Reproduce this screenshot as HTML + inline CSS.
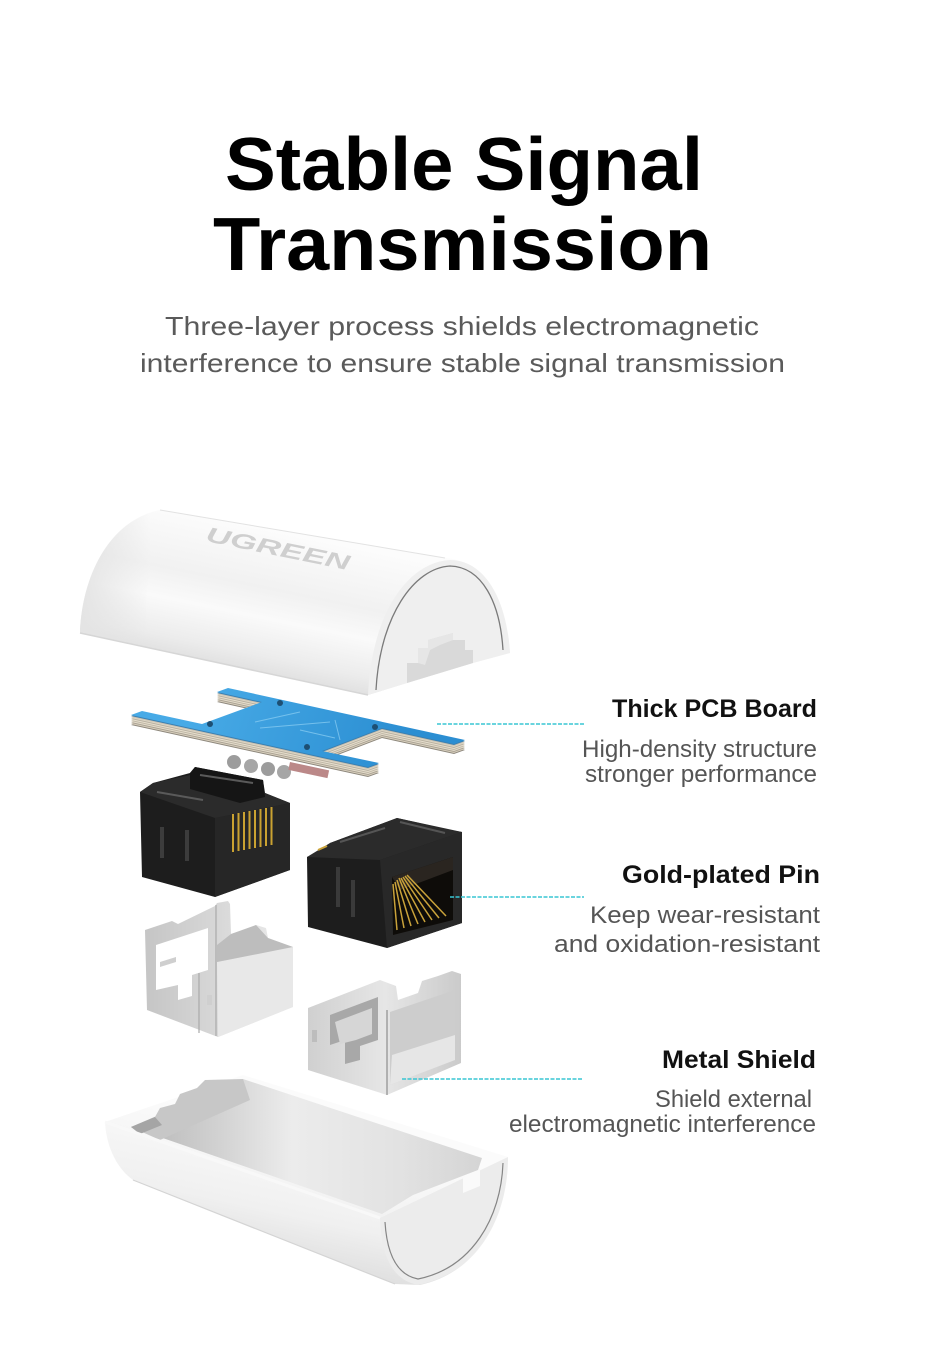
<!DOCTYPE html>
<html><head><meta charset="utf-8"><style>
html,body{margin:0;padding:0;background:#fff;}
svg{display:block;}
text{font-family:"Liberation Sans",sans-serif;}
</style></head><body>
<svg width="930" height="1368" viewBox="0 0 930 1368" xmlns="http://www.w3.org/2000/svg">
<defs>
  <linearGradient id="cov" gradientUnits="userSpaceOnUse" x1="300" y1="535" x2="270" y2="680">
    <stop offset="0" stop-color="#fcfcfc"/><stop offset="0.4" stop-color="#f1f1f1"/>
    <stop offset="0.6" stop-color="#fafafa"/><stop offset="0.85" stop-color="#ececec"/>
    <stop offset="1" stop-color="#dedede"/>
  </linearGradient>
  <linearGradient id="covL" gradientUnits="userSpaceOnUse" x1="80" y1="0" x2="150" y2="0">
    <stop offset="0" stop-color="#e4e4e4"/><stop offset="1" stop-color="#e4e4e4" stop-opacity="0"/>
  </linearGradient>
  <linearGradient id="blue" gradientUnits="userSpaceOnUse" x1="200" y1="690" x2="400" y2="760">
    <stop offset="0" stop-color="#47aae6"/><stop offset="1" stop-color="#2b8ed2"/>
  </linearGradient>
  <linearGradient id="silv" gradientUnits="userSpaceOnUse" x1="140" y1="0" x2="300" y2="0">
    <stop offset="0" stop-color="#c4c4c4"/><stop offset="0.5" stop-color="#d8d8d8"/><stop offset="1" stop-color="#f0f0f0"/>
  </linearGradient>
  <linearGradient id="silv2" gradientUnits="userSpaceOnUse" x1="305" y1="0" x2="465" y2="0">
    <stop offset="0" stop-color="#cfcfcf"/><stop offset="0.5" stop-color="#e6e6e6"/><stop offset="1" stop-color="#c9c9c9"/>
  </linearGradient>
  <linearGradient id="trough" gradientUnits="userSpaceOnUse" x1="260" y1="1120" x2="230" y2="1260">
    <stop offset="0" stop-color="#fbfbfb"/><stop offset="0.6" stop-color="#f0f0f0"/><stop offset="1" stop-color="#dcdcdc"/>
  </linearGradient>
  <linearGradient id="cav" gradientUnits="userSpaceOnUse" x1="130" y1="0" x2="490" y2="0">
    <stop offset="0" stop-color="#b5b5b5"/><stop offset="0.25" stop-color="#d2d2d2"/>
    <stop offset="0.45" stop-color="#ececec"/><stop offset="0.75" stop-color="#e2e2e2"/>
    <stop offset="1" stop-color="#d3d3d3"/>
  </linearGradient>
  <path id="pcb" d="M228,688 L465,740 L454,744 L382,728 L322,751 L379,763 L368,767 L131,715 L142,711 L202,724 L262,702 L217,692 Z"/>
</defs>
<rect width="930" height="1368" fill="#fff"/>

<!-- Title -->
<text x="225" y="190" font-size="75" font-weight="700" fill="#000" textLength="478" lengthAdjust="spacingAndGlyphs">Stable Signal</text>
<text x="213" y="270" font-size="75" font-weight="700" fill="#000" textLength="499" lengthAdjust="spacingAndGlyphs">Transmission</text>
<text x="165" y="335" font-size="26" fill="#5a5a5a" textLength="594" lengthAdjust="spacingAndGlyphs">Three-layer process shields electromagnetic</text>
<text x="140" y="372" font-size="26" fill="#5a5a5a" textLength="645" lengthAdjust="spacingAndGlyphs">interference to ensure stable signal transmission</text>

<!-- Labels -->
<text x="612" y="717" font-size="25" font-weight="700" fill="#111" textLength="205" lengthAdjust="spacingAndGlyphs">Thick PCB Board</text>
<text x="582" y="757" font-size="24" fill="#555" textLength="235" lengthAdjust="spacingAndGlyphs">High-density structure</text>
<text x="585" y="782" font-size="24" fill="#555" textLength="232" lengthAdjust="spacingAndGlyphs">stronger performance</text>

<text x="622" y="883" font-size="25" font-weight="700" fill="#111" textLength="198" lengthAdjust="spacingAndGlyphs">Gold-plated Pin</text>
<text x="590" y="923" font-size="24" fill="#555" textLength="230" lengthAdjust="spacingAndGlyphs">Keep wear-resistant</text>
<text x="554" y="952" font-size="24" fill="#555" textLength="266" lengthAdjust="spacingAndGlyphs">and oxidation-resistant</text>

<text x="662" y="1068" font-size="25" font-weight="700" fill="#111" textLength="154" lengthAdjust="spacingAndGlyphs">Metal Shield</text>
<text x="655" y="1107" font-size="24" fill="#555" textLength="157" lengthAdjust="spacingAndGlyphs">Shield external</text>
<text x="509" y="1132" font-size="24" fill="#555" textLength="307" lengthAdjust="spacingAndGlyphs">electromagnetic interference</text>

<!-- Top cover -->
<path d="M160,510 L445,558 C 480,560 505,595 510,653 L473,663 L407,683 L368,695 L80,633 C 82,575 110,520 160,510 Z" fill="url(#cov)"/>
<path d="M160,510 C 110,520 82,575 80,633 L150,648 C 140,600 150,540 175,513 Z" fill="url(#covL)"/>
<path d="M160,510 L445,558" stroke="#e2e2e2" stroke-width="1" fill="none"/>
<path d="M80,633 L368,695" stroke="#d6d6d6" stroke-width="1.5" fill="none"/>
<text transform="translate(205,541) rotate(11.5)" font-size="21" font-weight="700" font-style="italic" fill="#cfcfcf" textLength="146" lengthAdjust="spacingAndGlyphs">UGREEN</text>
<path d="M368,695 C 372,610 410,562 450,560 C 485,560 507,600 510,653 L473,663 L407,683 Z" fill="#efefef"/>
<path d="M376,690 C 380,616 414,568 450,566 C 482,567 500,602 503,650" stroke="#7a7a7a" stroke-width="1.3" fill="none"/>
<polygon points="407,683 407,663 418,663 418,648 428,648 428,640 453,633 453,640 465,640 465,650 473,650 473,663" fill="#d9d9d9"/>
<polygon points="418,663 418,648 428,648 428,640 453,633 453,640 440,645 430,650 425,665" fill="#e6e6e6"/>

<!-- PCB components -->
<circle cx="234" cy="762" r="7" fill="#9c9c9c"/>
<circle cx="251" cy="766" r="7" fill="#a6a6a6"/>
<circle cx="268" cy="769" r="7" fill="#9c9c9c"/>
<circle cx="284" cy="772" r="7" fill="#a6a6a6"/>
<rect x="290" y="762" width="40" height="8" fill="#b88" transform="rotate(12 290 762)"/>

<!-- PCB edge layers -->
<use href="#pcb" y="10" fill="#8d877c"/>
<use href="#pcb" y="9" fill="#d9d0be"/>
<use href="#pcb" y="8" fill="#aaa293"/>
<use href="#pcb" y="7" fill="#e5ddcc"/>
<use href="#pcb" y="6" fill="#bfb7a6"/>
<use href="#pcb" y="5" fill="#e8e0cf"/>
<use href="#pcb" y="4" fill="#b9b1a1"/>
<use href="#pcb" y="3" fill="#ded6c5"/>
<use href="#pcb" y="2" fill="#cbc3b2"/>
<use href="#pcb" y="1" fill="#3b7fb0"/>
<use href="#pcb" fill="url(#blue)"/>
<circle cx="280" cy="703" r="3" fill="#1d4f73"/>
<circle cx="210" cy="724" r="3" fill="#1d4f73"/>
<circle cx="375" cy="727" r="3" fill="#1d4f73"/>
<circle cx="307" cy="747" r="3" fill="#1d4f73"/>
<path d="M255,722 L300,712 M260,728 L330,722 M300,730 L335,738 M335,720 L340,740" stroke="#8fd0f3" stroke-width="1" fill="none" opacity="0.7"/>

<!-- Left jack -->
<polygon points="140,792 153,783 190,773 195,767 263,780 265,793 290,803 290,870 215,897 142,877" fill="#1d1d1d"/>
<polygon points="215,818 290,803 290,870 215,897" fill="#262626"/>
<polygon points="140,792 153,783 190,775 265,793 290,803 215,818" fill="#2b2b2b"/>
<polygon points="190,773 195,767 263,780 265,797 240,803 190,789" fill="#151515"/>
<path d="M157,792 L203,800 M200,775 L253,783" stroke="#5a5a5a" stroke-width="2" fill="none"/>
<path d="M162,827 L162,858 M187,830 L187,861" stroke="#3c3c3c" stroke-width="4" fill="none"/>
<g stroke="#caa231" stroke-width="2">
  <line x1="233" y1="814" x2="233" y2="852"/><line x1="238.5" y1="813" x2="238.5" y2="851"/>
  <line x1="244" y1="812" x2="244" y2="850"/><line x1="249.5" y1="811" x2="249.5" y2="849"/>
  <line x1="255" y1="810" x2="255" y2="848"/><line x1="260.5" y1="809" x2="260.5" y2="847"/>
  <line x1="266" y1="808" x2="266" y2="846"/><line x1="271.5" y1="807" x2="271.5" y2="845"/>
</g>

<!-- Right jack -->
<polygon points="307,857 327,850 330,843 397,818 450,830 462,832 462,923 387,948 308,927" fill="#1d1d1d"/>
<polygon points="380,860 462,832 462,923 387,948" fill="#282828"/>
<polygon points="307,857 330,843 397,818 462,832 380,860" fill="#2b2b2b"/>
<path d="M340,842 L385,828 M400,822 L445,833" stroke="#555" stroke-width="2" fill="none"/>
<path d="M338,867 L338,907 M353,880 L353,917" stroke="#3a3a3a" stroke-width="4" fill="none"/>
<polygon points="392,877 453,857 453,920 393,935" fill="#0e0c09"/>
<polygon points="392,877 453,857 453,870 400,890" fill="#2a2520"/>
<g stroke="#c9a23a" stroke-width="1.5">
  <line x1="393" y1="884" x2="397" y2="930"/><line x1="395" y1="882" x2="404" y2="928"/>
  <line x1="397" y1="880" x2="411" y2="926"/><line x1="399" y1="878" x2="418" y2="924"/>
  <line x1="401" y1="878" x2="425" y2="922"/><line x1="403" y1="877" x2="432" y2="920"/>
  <line x1="405" y1="876" x2="439" y2="918"/><line x1="407" y1="875" x2="446" y2="916"/>
</g>
<path d="M318,850 L327,846" stroke="#c9a23a" stroke-width="2"/>

<!-- Left metal shield -->
<polygon points="145,930 172,921 178,924 215,906 217,903 228,901 230,904 231,934 250,928 256,925 266,928 268,938 293,947 293,1007 218,1037 147,1010" fill="url(#silv)"/>
<polygon points="217,962 293,947 293,1007 218,1037" fill="#e8e8e8"/>
<polygon points="231,934 256,925 268,938 293,947 217,962 217,945" fill="#bdbdbd"/>
<polygon points="156,945 208,928 208,970 192,975 192,996 178,1000 178,985 156,990" fill="#ffffff"/>
<polygon points="160,962 176,957 176,962 160,967" fill="#cfcfcf"/>
<path d="M199,973 L199,1033 M216,905 L216,1036" stroke="#a9a9a9" stroke-width="1.2"/>
<rect x="207" y="995" width="5" height="10" fill="#cfcfcf"/>

<!-- Right metal shield -->
<polygon points="308,1008 380,980 396,986 398,1000 418,993 422,981 438,976 452,971 461,974 461,1063 387,1095 308,1070" fill="url(#silv2)"/>
<polygon points="390,1012 455,990 455,1060 390,1085" fill="#cdcdcd"/>
<polygon points="392,1055 455,1035 455,1060 390,1085" fill="#e6e6e6"/>
<polygon points="330,1015 378,997 378,1040 360,1046 360,1060 345,1064 345,1040 330,1045" fill="#a8a8a8"/>
<polygon points="335,1022 372,1008 372,1034 356,1040 340,1044" fill="#d6d6d6"/>
<path d="M387,1010 L387,1095" stroke="#8e8e8e" stroke-width="1.2"/>
<rect x="312" y="1030" width="5" height="12" fill="#bdbdbd"/>

<!-- Bottom trough -->
<path d="M105,1122 L243,1075 L508,1157 C 508,1215 480,1272 420,1285 L395,1284 L133,1180 C 116,1168 106,1145 105,1122 Z" fill="url(#trough)"/>
<path d="M131,1127 L243,1079 L482,1158 L478,1170 L413,1195 L382,1214 Z" fill="url(#cav)"/>
<polygon points="131,1127 155,1117 160,1108 175,1104 180,1094 197,1088 205,1080 243,1079 250,1100 160,1140" fill="#c7c7c7"/>
<polygon points="131,1127 155,1117 162,1125 140,1134" fill="#a5a5a5"/>
<path d="M105,1122 L380,1218" stroke="#f8f8f8" stroke-width="3"/>
<path d="M380,1218 L508,1157 C 508,1215 480,1272 418,1285 C 392,1280 381,1255 380,1218 Z" fill="#ececec"/>
<path d="M503,1163 C 501,1218 472,1268 418,1279 C 397,1275 387,1255 385,1222" stroke="#858585" stroke-width="1.2" fill="none"/>
<polygon points="463,1178 480,1170 480,1186 463,1193" fill="#fafafa"/>
<path d="M133,1180 L395,1284" stroke="#d4d4d4" stroke-width="1.2"/>

<!-- Connector lines -->
<g stroke="#38c6d4" stroke-width="1.6" stroke-dasharray="4 1.5" fill="none">
  <line x1="437" y1="724" x2="584" y2="724"/>
  <line x1="450" y1="897" x2="584" y2="897"/>
  <line x1="402" y1="1079" x2="582" y2="1079"/>
</g>
</svg>
</body></html>
